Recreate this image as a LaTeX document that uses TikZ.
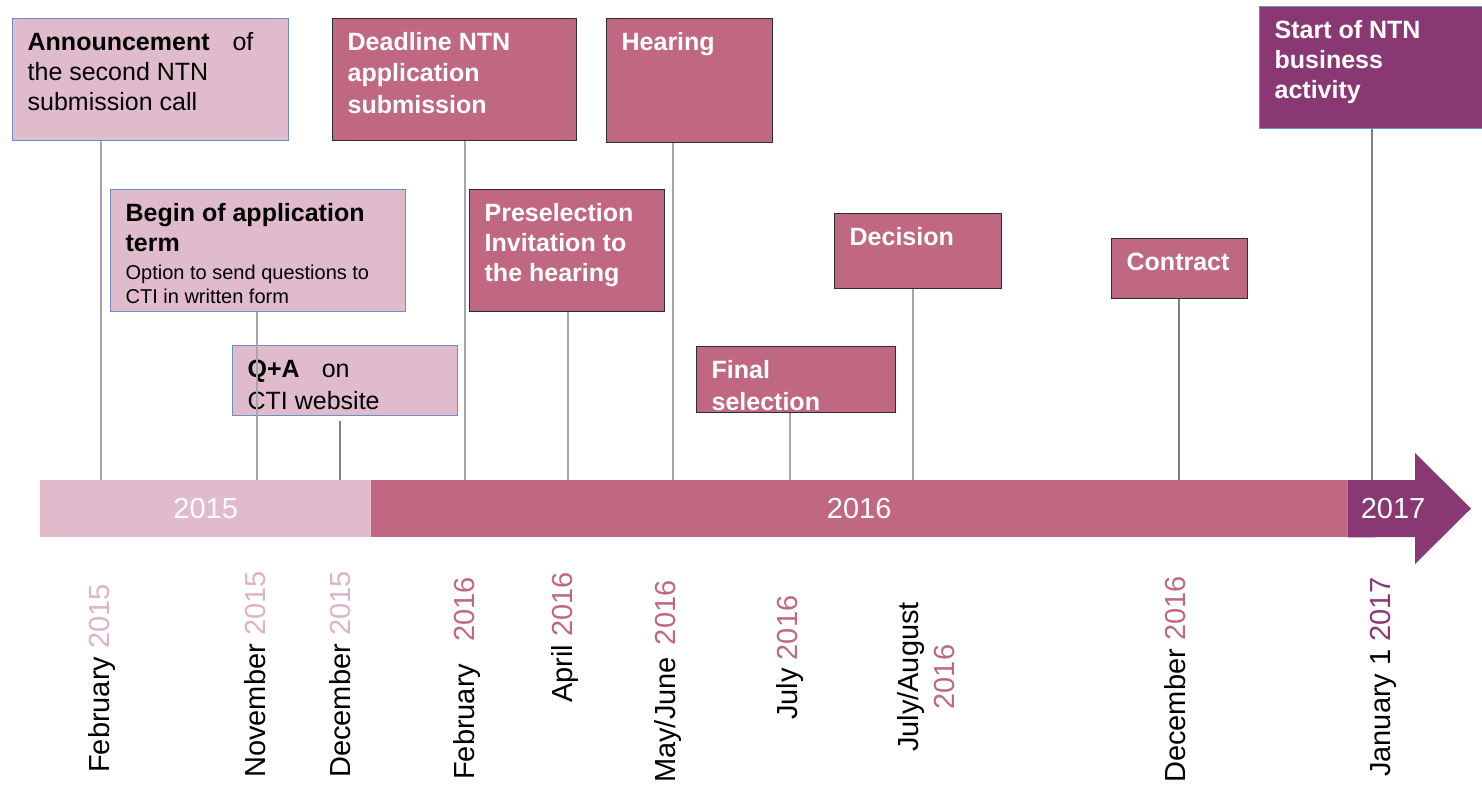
\documentclass[tikz,border=0pt]{standalone}
\usepackage{fontspec}
\setmainfont{Liberation Sans}
\definecolor{nlight}{HTML}{E0BBCC}
\definecolor{nmid}{HTML}{C06882}
\definecolor{ndark}{HTML}{8A3873}
\definecolor{nblue}{HTML}{6A8FCB}
\definecolor{nedge}{HTML}{2E2E2E}
\definecolor{ngray}{HTML}{A6A6A6}
\definecolor{ylight}{HTML}{DDB3C7}
\newcommand{\boxtext}[3]{\parbox[t][#1][t]{#2}{\raggedright #3}}
\tikzset{
  evbox/.style={line width=1.3pt, anchor=north west, inner xsep=15pt, inner ysep=14pt},
  lightbox/.style={evbox, draw=nblue, fill=nlight, text=black, font=\fontsize{25}{30}\selectfont},
  midbox/.style={evbox, draw=nedge, fill=nmid, text=white, font=\fontsize{25}{30}\selectfont\bfseries},
  darkbox/.style={evbox, draw=nblue, fill=ndark, text=white, font=\fontsize{25}{30}\selectfont\bfseries},
  conn/.style={draw=ngray, line width=1.8pt},
  thinconn/.style={draw=gray, line width=1.1pt},
  yearbar/.style={anchor=north west, inner sep=0pt, minimum height=57pt, text=white, font=\fontsize{29}{35}\selectfont},
  datelbl/.style={rotate=90, anchor=west, inner sep=0pt, font=\fontsize{29}{35}\selectfont},
}
\begin{document}
\begin{tikzpicture}[x=1pt,y=-1pt]
\useasboundingbox (0,0) rectangle (1482,785);

% time bar
\node[yearbar, fill=nlight, minimum width=331pt] (y15) at (40,480) {2015};
\node[yearbar, fill=nmid, minimum width=976pt] (y16) at (371,480) {2016};
\fill[ndark] (y16.north east) -- (1415,480) -- (1415,453) -- (1471,508.5) -- (1415,564) -- (1415,537) -- (y16.south east) -- cycle;
\node[yearbar, anchor=center, minimum height=0pt] (y17) at (1393,508.5) {2017};

\coordinate (t0) at (101,480);
\coordinate (t1) at (257,480);
\coordinate (t2) at (340,480);
\coordinate (t3) at (465,480);
\coordinate (t4) at (568,480);
\coordinate (t5) at (673,480);
\coordinate (t6) at (790,480);
\coordinate (t7) at (913,480);
\coordinate (t8) at (1179,480);
\coordinate (t9) at (1372,480);

% events
\node[lightbox] (ev0) at (12,18) {\boxtext{94pt}{246pt}{\textbf{Announcement}\hspace{23pt}of\\the second NTN\\submission call}};
\node[lightbox] (ev1) at (110,189) {\boxtext{94pt}{265pt}{\textbf{Begin of application\\term}\par\vspace{4pt}{\fontsize{20}{24}\selectfont Option to send questions to\\CTI in written form\par}}};
\node[lightbox] (ev2) at (232,345) {\boxtext{42pt}{195pt}{\textbf{Q+A}\hspace{22pt}on\\[2pt]CTI website}};
\node[midbox] (ev3) at (332,18) {\boxtext{94pt}{214pt}{Deadline NTN\\[1pt]application\\[2pt]submission}};
\node[midbox] (ev4) at (469,189) {\boxtext{94pt}{165pt}{Preselection\\Invitation to\\the hearing}};
\node[midbox] (ev5) at (606,18) {\boxtext{96pt}{136pt}{Hearing}};
\node[midbox] (ev6) at (696,346) {\boxtext{38pt}{169pt}{Final\\[2pt]selection}};
\node[midbox] (ev7) at (834,213) {\boxtext{47pt}{137pt}{Decision}};
\node[midbox] (ev8) at (1111,238) {\boxtext{32pt}{106pt}{Contract}};
\node[darkbox] (ev9) at (1259,6) {\boxtext{94pt}{196pt}{Start of NTN\\business\\activity}};

\draw[conn] (ev0.south -| t0) -- (t0);
\draw[conn] (ev1.south -| t1) -- (t1);
\draw[thinconn] ([yshift=-5pt]ev2.south -| t2) -- (t2);
\draw[conn] (ev3.south -| t3) -- (t3);
\draw[conn] (ev4.south -| t4) -- (t4);
\draw[conn] (ev5.south -| t5) -- (t5);
\draw[conn] (ev6.south -| t6) -- (t6);
\draw[conn] (ev7.south -| t7) -- (t7);
\draw[thinconn] (ev8.south -| t8) -- (t8);
\draw[thinconn] (ev9.south -| t9) -- (t9);

% dates
\node[datelbl] (d0) at (102,773) {February {\color{ylight}2015}};
\node[datelbl] (d1) at (255,778) {November {\color{ylight}2015}};
\node[datelbl] (d2) at (340,778) {December {\color{ylight}2015}};
\node[datelbl] (d3) at (467,780) {February\hspace{14pt} {\color{nmid}2016}};
\node[datelbl] (d4) at (565,703) {April {\color{nmid}2016}};
\node[datelbl] (d5) at (668,783) {May/June\hspace{4pt} {\color{nmid}2016}};
\node[datelbl] (d6) at (790,720) {July {\color{nmid}2016}};
\node[datelbl, anchor=center, align=center] (d7) at (926,677) {July/August\\[1pt]{\color{nmid}2016}};
\node[datelbl] (d8) at (1175,783) {December {\color{nmid}2016}};
\node[datelbl] (d9) at (1383,777) {January 1 {\color{ndark}2017}};

\end{tikzpicture}
\end{document}
